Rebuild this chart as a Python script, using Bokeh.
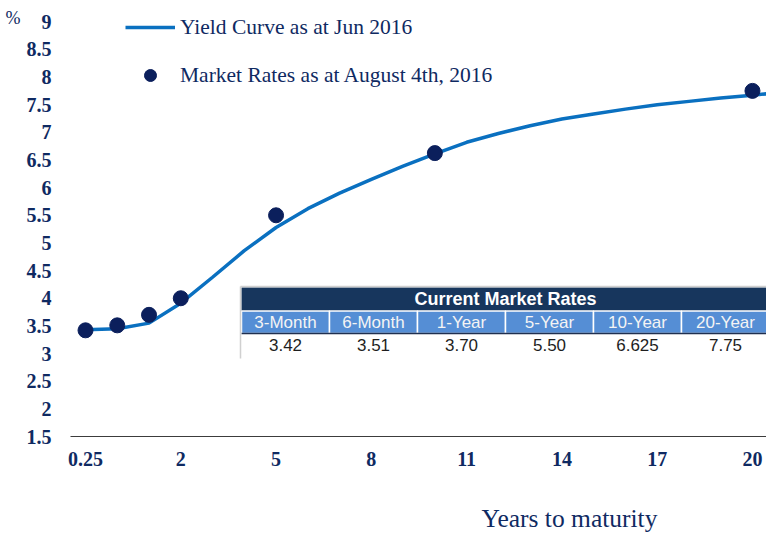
from bokeh.plotting import figure
from bokeh.models import Legend, LegendItem, FixedTicker, Range1d, LinearAxis
from bokeh.embed import file_html
from bokeh.resources import INLINE
from bokeh.core.properties import value

# ---------------- data ----------------
# chart positions: 0.25y plotted at -1, 0.5y at 0, 1y at 1, then years
curve_x = [-1, 0, 1, 2, 3, 4, 5, 6, 7, 8, 9, 10, 11, 12, 13, 14, 15, 16, 17, 18, 19, 20, 20.5]
curve_y = [3.43, 3.45, 3.55, 3.91, 4.38, 4.86, 5.28, 5.62, 5.90, 6.15, 6.39, 6.61,
           6.82, 6.98, 7.12, 7.24, 7.33, 7.42, 7.50, 7.56, 7.62, 7.67, 7.70]
market_x = [-1, 0, 1, 2, 5, 10, 20]
market_y = [3.42, 3.51, 3.70, 4.00, 5.50, 6.625, 7.75]

x_ticks = [-1, 2, 5, 8, 11, 14, 17, 20]
x_tick_labels = ["0.25", "2", "5", "8", "11", "14", "17", "20"]
y_ticks = [1.5, 2, 2.5, 3, 3.5, 4, 4.5, 5, 5.5, 6, 6.5, 7, 7.5, 8, 8.5, 9]
y_tick_labels = ["1.5", "2", "2.5", "3", "3.5", "4", "4.5", "5", "5.5", "6", "6.5",
                 "7", "7.5", "8", "8.5", "9"]

table_title = "Current Market Rates"
table_headers = ["3-Month", "6-Month", "1-Year", "5-Year", "10-Year", "20-Year"]
table_values = ["3.42", "3.51", "3.70", "5.50", "6.625", "7.75"]

legend_curve = "Yield Curve as at Jun 2016"
legend_market = "Market Rates as at August 4th, 2016"
x_title = "Years to maturity"
y_unit = "%"

# ---------------- styles ----------------
NAVY = "#0f2a62"
LINE_BLUE = "#0a70c0"
DOT = "#0b1f5c"
HEAD = "#17365d"
SUB = "#558ed5"
SERIF = "Liberation Serif"
SANS = "Liberation Sans"

W, H = 766, 535
FL, FR, FB, FT = 70, 766, 436, 10   # frame edges in pixels
PXX = 31.76                          # pixels per x unit
PXY = 55.3                           # pixels per y unit
X0 = -1 - (85 - FL) / PXX
X1 = X0 + (FR - FL) / PXX
Y0 = 1.5
Y1 = Y0 + (FB - FT) / PXY


def px_x(v):
    return X0 + (v - FL) / PXX


def px_y(v):
    return Y0 + (FB - v) / PXY


p = figure(width=W, height=H, output_backend="svg", toolbar_location=None,
           x_range=Range1d(X0, X1), y_range=Range1d(Y0, Y1),
           min_border_left=FL, min_border_right=W - FR, min_border_top=FT,
           min_border_bottom=H - FB)
p.outline_line_color = None
p.xgrid.visible = False
p.ygrid.visible = False

# axes
p.xaxis.ticker = FixedTicker(ticks=x_ticks)
p.xaxis.major_label_overrides = {t: l for t, l in zip(x_ticks, x_tick_labels)}
p.yaxis.ticker = FixedTicker(ticks=y_ticks)
p.yaxis.major_label_overrides = {t: l for t, l in zip(y_ticks, y_tick_labels)}
for ax in (p.xaxis, p.yaxis):
    ax.major_tick_line_color = None
    ax.minor_tick_line_color = None
    ax.major_tick_out = 0
    ax.major_tick_in = 0
    ax.minor_tick_out = 0
    ax.major_label_text_font = SERIF
    ax.major_label_text_font_style = "bold"
    ax.major_label_text_font_size = "20px"
    ax.major_label_text_color = NAVY
p.yaxis.axis_line_color = None
p.yaxis.major_label_standoff = 19
p.xaxis.axis_line_color = "#3c3c3c"
p.xaxis.axis_line_width = 1.2
p.xaxis.major_label_standoff = 15

# "%" unit label as an outer left axis with a single tick at the top
unit_pos = px_y(17.3)
unit_axis = LinearAxis(ticker=FixedTicker(ticks=[unit_pos]),
                       major_label_overrides={unit_pos: y_unit},
                       axis_line_color=None, major_tick_line_color=None,
                       minor_tick_line_color=None, major_tick_out=0, major_tick_in=0,
                       minor_tick_out=0, major_label_standoff=3,
                       major_label_text_font=SERIF, major_label_text_font_size="18px",
                       major_label_text_color=NAVY)
p.add_layout(unit_axis, "left")

# x title as an outer below axis with a single tick
title_pos = px_x(569)
title_axis = LinearAxis(ticker=FixedTicker(ticks=[title_pos]),
                        major_label_overrides={title_pos: x_title},
                        axis_line_color=None, major_tick_line_color=None,
                        minor_tick_line_color=None, major_tick_out=0, major_tick_in=0,
                        minor_tick_out=0, major_label_standoff=35,
                        major_label_text_font=SERIF, major_label_text_font_size="25.5px",
                        major_label_text_color=NAVY)
p.add_layout(title_axis, "below")

# ---- table ----
col_w = 88
t_left = 241
n = len(table_headers)
row_tops = [287, 310.5, 333, 358]
lefts = [px_x(t_left + i * col_w) for i in range(n)]
rights = [px_x(t_left + (i + 1) * col_w) for i in range(n)]
centers = [px_x(t_left + (i + 0.5) * col_w) for i in range(n)]
t_right = px_x(t_left + n * col_w)

p.quad(left=[px_x(t_left)], right=[t_right], top=[px_y(row_tops[2])],
       bottom=[px_y(row_tops[3])], fill_color="white", line_color=None)
p.quad(left=[px_x(t_left)], right=[t_right], top=[px_y(row_tops[0])],
       bottom=[px_y(row_tops[1])], fill_color=HEAD, line_color=None)
p.quad(left=lefts, right=rights, top=px_y(row_tops[1]), bottom=px_y(row_tops[2]),
       fill_color=SUB, line_color="white", line_width=1.5)
p.segment(x0=[px_x(t_left)], y0=[px_y(row_tops[2])], x1=[t_right],
          y1=[px_y(row_tops[2])], line_color="#1f2f4f", line_width=1.5)
p.segment(x0=[px_x(t_left - 1), px_x(t_left - 1)],
          y0=[px_y(row_tops[0] - 1), px_y(row_tops[0] - 1)],
          x1=[t_right, px_x(t_left - 1)], y1=[px_y(row_tops[0] - 1), px_y(row_tops[3])],
          line_color="#d0d0d0", line_width=1.5)
p.text(x=[px_x(t_left + n * col_w / 2)], y=[px_y((row_tops[0] + row_tops[1]) / 2)],
       text=[table_title], text_align="center", text_baseline="middle",
       text_font=value(SANS), text_font_style="bold", text_font_size="18px",
       text_color="white")
p.text(x=centers, y=px_y((row_tops[1] + row_tops[2]) / 2), text=table_headers,
       text_align="center", text_baseline="middle", text_font=value(SANS),
       text_font_size="17px", text_color="#f4f4f4")
p.text(x=centers, y=px_y((row_tops[2] + row_tops[3]) / 2 - 1), text=table_values,
       text_align="center", text_baseline="middle", text_font=value(SANS),
       text_font_size="17px", text_color="#1e1e1e")

# ---- series ----
line_r = p.line(curve_x, curve_y, line_color=LINE_BLUE, line_width=3.5)
dot_r = p.scatter(market_x, market_y, size=15, fill_color=DOT, line_color=DOT)

legend = Legend(items=[LegendItem(label=legend_curve, renderers=[line_r]),
                       LegendItem(label=legend_market, renderers=[dot_r])],
                location=(55, 346), glyph_width=50, glyph_height=30, label_height=30,
                spacing=18, padding=0, margin=0, label_standoff=5,
                border_line_alpha=0, background_fill_alpha=0,
                label_text_font=SERIF, label_text_font_size="21.5px", label_text_color=NAVY)
p.add_layout(legend)

open("out.html", "w").write(file_html(p, INLINE))
